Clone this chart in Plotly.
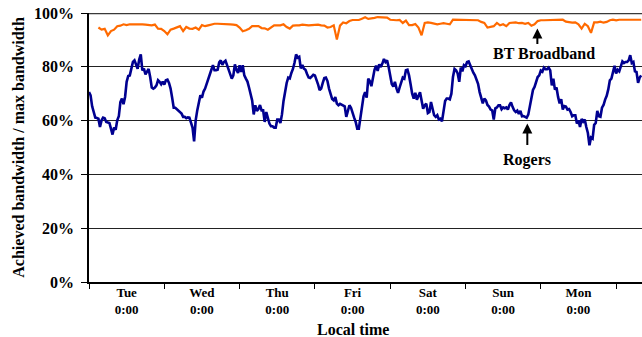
import plotly.graph_objects as go

# Rogers: one reading per half hour, starting Mon 12:00 local time
rogers = [70.6, 69.4, 65.3, 62.8, 61.1, 61.0, 60.7, 57.6, 60.1, 61.1,
          60.9, 59.5, 59.4, 59.1, 57.0, 54.8, 57.4, 56.6, 60.1, 61.6,
          66.9, 68.2, 66.1, 68.8, 74.4, 76.6, 76.8, 79.9, 81.8, 82.4,
          80.8, 79.3, 82.7, 84.6, 78.7, 79.3, 77.2, 78.4, 79.2, 76.2,
          72.3, 71.9, 72.3, 73.1, 75.0, 74.4, 73.5, 74.5, 73.4, 75.0,
          75.2, 74.0, 71.9, 68.5, 64.8, 64.8, 64.3, 63.6, 63.1, 62.6,
          61.4, 61.4, 60.9, 61.2, 61.1, 59.5, 57.4, 52.3, 60.1, 63.8,
          66.3, 69.4, 68.5, 70.8, 71.9, 73.5, 75.2, 76.5, 78.9, 80.6,
          78.7, 78.7, 78.9, 81.7, 82.4, 80.7, 81.8, 82.3, 80.7, 78.9,
          77.7, 75.6, 76.8, 80.9, 78.9, 77.7, 80.6, 78.1, 80.6, 76.8,
          75.6, 74.5, 72.3, 70.3, 67.5, 62.3, 65.7, 63.6, 64.3, 65.8,
          63.8, 63.8, 59.5, 63.2, 61.1, 58.9, 57.9, 57.9, 57.4, 57.4,
          60.4, 60.4, 59.1, 62.3, 67.3, 71.0, 74.0, 76.0, 75.7, 77.7,
          79.2, 81.5, 84.6, 83.4, 83.7, 79.4, 80.7, 79.3, 78.9, 77.3,
          76.0, 75.8, 76.3, 77.0, 76.8, 75.4, 73.5, 71.3, 71.9, 74.0,
          75.8, 76.0, 74.7, 71.9, 69.8, 68.0, 67.5, 68.8, 66.3, 65.7,
          66.2, 65.9, 65.7, 65.3, 61.4, 63.2, 65.7, 64.8, 62.6, 61.1,
          59.5, 57.0, 57.0, 61.4, 66.3, 69.0, 70.6, 68.5, 75.6, 74.7,
          72.8, 76.8, 78.9, 80.4, 78.5, 80.9, 79.9, 81.2, 82.9, 81.8,
          82.4, 79.9, 76.5, 73.6, 72.6, 74.4, 72.0, 70.3, 72.3, 74.4,
          76.0, 75.6, 78.7, 78.9, 76.8, 73.5, 70.0, 68.2, 70.3, 67.8,
          69.4, 70.5, 67.5, 64.4, 65.7, 66.3, 62.8, 63.2, 66.9, 63.8,
          62.0, 61.4, 62.0, 60.4, 60.7, 59.7, 63.2, 67.3, 68.2, 68.2,
          67.9, 70.0, 76.2, 79.2, 78.7, 77.5, 74.4, 79.7, 78.3, 80.6,
          80.2, 81.8, 82.0, 80.6, 78.7, 77.8, 76.8, 75.2, 73.7, 70.6,
          68.0, 66.4, 68.2, 67.5, 65.8, 65.2, 64.1, 63.8, 60.4, 64.6,
          64.9, 65.7, 65.7, 64.2, 64.9, 64.6, 64.9, 64.1, 65.8, 66.8,
          65.1, 63.8, 63.2, 63.7, 62.5, 63.6, 61.6, 61.7, 61.4, 61.1,
          62.2, 65.1, 69.4, 71.4, 72.5, 74.4, 76.2, 76.8, 78.6, 78.2,
          79.7, 79.1, 79.1, 79.7, 78.7, 73.1, 75.6, 71.5, 72.3, 68.8,
          66.4, 68.0, 64.1, 65.4, 65.2, 64.1, 64.3, 63.2, 61.6, 62.0,
          62.0, 58.9, 60.1, 57.6, 60.6, 59.6, 60.4, 57.6, 55.4, 50.8,
          53.7, 53.3, 58.4, 59.1, 63.6, 61.6, 61.4, 64.8, 65.8, 67.8,
          69.2, 71.6, 75.0, 75.6, 78.7, 80.4, 77.5, 78.9, 78.3, 80.6,
          82.0, 81.4, 81.8, 81.8, 82.4, 84.3, 81.4, 81.8, 78.3, 78.1,
          74.0, 76.0, 76.8]
rogers_start_hour = 0
rogers_step_hours = 0.5

# BT Broadband: one reading per hour, starting Mon 15:00 local time
bt = [94.6, 93.8, 94.1, 91.7, 93.3, 93.8, 95.1, 95.3, 95.8, 95.5,
      95.8, 95.8, 96.0, 95.8, 95.8, 95.7, 95.5, 95.4, 95.7, 94.2,
      94.1, 93.3, 92.1, 93.8, 94.2, 94.6, 95.1, 93.3, 94.8, 94.2,
      94.1, 94.6, 93.8, 95.5, 95.1, 95.4, 95.8, 96.0, 96.0, 96.0,
      96.0, 95.9, 95.8, 95.7, 95.5, 94.6, 93.2, 93.6, 94.1, 95.1,
      95.2, 95.1, 94.4, 94.3, 93.8, 94.6, 95.4, 95.4, 95.4, 95.8,
      94.8, 94.2, 95.3, 95.4, 95.4, 95.7, 95.5, 95.4, 95.5, 95.7,
      95.7, 95.4, 95.3, 94.6, 94.8, 95.4, 90.1, 95.3, 96.5, 96.2,
      97.0, 97.4, 97.3, 97.4, 97.9, 98.4, 97.8, 97.9, 98.2, 98.5,
      98.5, 98.5, 98.3, 97.5, 97.3, 97.3, 97.4, 96.3, 97.2, 95.5,
      95.5, 95.9, 94.6, 91.7, 96.3, 96.5, 96.3, 96.0, 95.8, 96.0,
      96.2, 96.0, 95.8, 97.5, 97.5, 97.3, 97.5, 97.5, 97.5, 97.5,
      97.5, 97.3, 96.7, 96.3, 94.6, 94.8, 95.1, 96.3, 95.4, 95.8,
      95.1, 96.3, 96.5, 96.5, 96.2, 96.3, 96.0, 96.3, 95.3, 95.8,
      97.0, 97.3, 97.3, 97.3, 97.5, 97.5, 97.3, 97.3, 97.5, 96.8,
      96.5, 96.4, 96.5, 95.8, 94.2, 96.0, 95.1, 92.6, 96.5, 96.5,
      96.8, 96.4, 96.7, 97.3, 97.5, 97.3, 97.5, 97.5, 97.3, 97.5,
      97.5, 97.5, 97.4, 97.5]
bt_start_hour = 3
bt_step_hours = 1.0

day_labels = ["Tue", "Wed", "Thu", "Fri", "Sat", "Sun", "Mon"]
y_ticks = [0, 20, 40, 60, 80, 100]

FONT = "Times New Roman, Liberation Serif, serif"

x_rogers = [rogers_start_hour + k * rogers_step_hours for k in range(len(rogers))]
x_bt = [bt_start_hour + k * bt_step_hours for k in range(len(bt))]

fig = go.Figure()
fig.add_trace(go.Scatter(x=x_rogers, y=rogers, mode="lines",
                         line=dict(color="#000090", width=2.6), name="Rogers"))
fig.add_trace(go.Scatter(x=x_bt, y=bt, mode="lines",
                         line=dict(color="#FF6A00", width=2.2), name="BT Broadband"))

label_pos = [12 + 24 * k for k in range(len(day_labels))]
tick_pos = [24 * k for k in range(len(day_labels) + 1)]

fig.update_layout(
    width=642, height=337,
    margin=dict(l=89, r=0, t=13, b=55),
    paper_bgcolor="white", plot_bgcolor="white",
    showlegend=False,
    font=dict(family=FONT, color="black"),
    xaxis=dict(
        range=[0, 176.25],
        tickvals=label_pos,
        ticktext=[f"{d}<br>0:00" for d in day_labels],
        ticks="", showgrid=False, zeroline=False,
        tickfont=dict(size=13, family=FONT, weight="bold"),
        showline=True, linecolor="black", linewidth=1.5,
        ticklabelstandoff=-2,
        minor=dict(tickvals=tick_pos, ticks="outside", ticklen=5,
                   tickcolor="black", tickwidth=1, showgrid=False),
    ),
    yaxis=dict(
        range=[0, 100],
        tickvals=y_ticks,
        ticktext=[f"{v}%" for v in y_ticks],
        ticks="outside", ticklen=6, tickcolor="black", tickwidth=1,
        showgrid=True, gridcolor="#222222", gridwidth=1,
        zeroline=False,
        showline=True, linecolor="black", linewidth=1.5,
        tickfont=dict(size=16, family=FONT, weight="bold"),
        ticklabelstandoff=4,
    ),
)

fig.add_shape(type="line", xref="paper", yref="y", x0=0, x1=1, y0=100, y1=100,
              line=dict(color="#3a3a3a", width=2.5))

annots = [
    dict(text="<b>Achieved bandwidth / max bandwidth</b>", xref="paper", yref="paper",
         x=-0.128, y=0.5, xanchor="center", yanchor="middle", textangle=-90,
         showarrow=False, font=dict(size=16, family=FONT)),
    dict(text="<b>Local time</b>", xref="paper", yref="paper",
         x=(352.7 - 89) / 553, y=-(329 - 281.7) / 269, xanchor="center",
         yanchor="middle", showarrow=False, font=dict(size=16, family=FONT)),
    dict(text="<b>BT Broadband</b>", x=145.0, y=85.0, showarrow=False,
         xanchor="center", yanchor="middle", font=dict(size=16, family=FONT)),
    dict(text="<b>Rogers</b>", x=139.5, y=45.2, showarrow=False,
         xanchor="center", yanchor="middle", font=dict(size=16, family=FONT)),
    dict(text="", x=142.9, y=94.2, ax=0, ay=17, showarrow=True,
         arrowhead=2, arrowsize=1, arrowwidth=2, arrowcolor="black"),
    dict(text="", x=139.7, y=58.9, ax=0, ay=23, showarrow=True,
         arrowhead=2, arrowsize=1, arrowwidth=2, arrowcolor="black"),
]
for a in annots:
    fig.add_annotation(**a)

fig.write_html("out.html")
